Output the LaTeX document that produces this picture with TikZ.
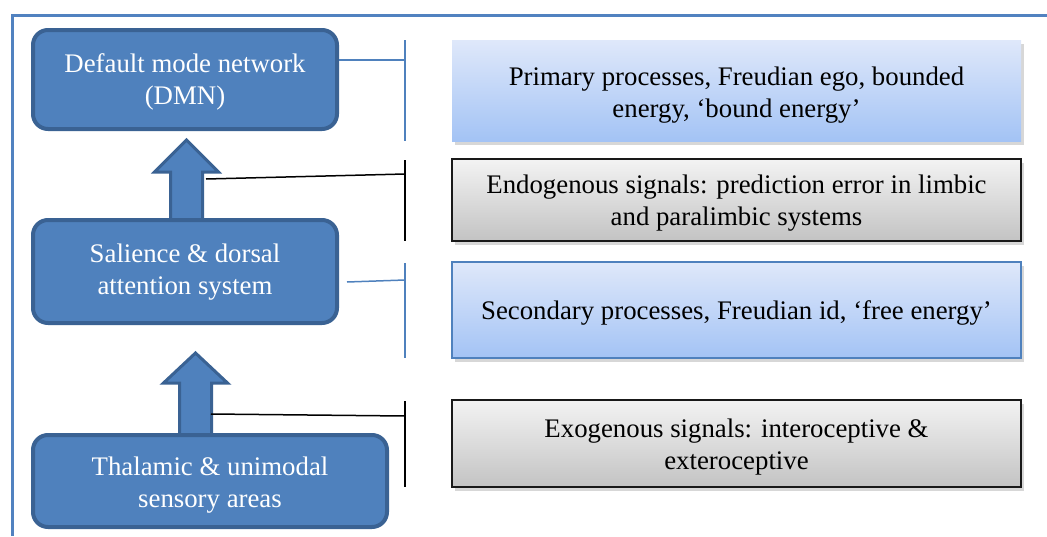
\documentclass[tikz,border=0pt]{standalone}
\usepackage{fontspec}
\setmainfont{Liberation Serif}
\usetikzlibrary{shadows,calc}
\definecolor{netfill}{HTML}{4F81BD}
\definecolor{netline}{HTML}{3A6293}
\definecolor{frameblue}{HTML}{5182C0}
\definecolor{blueTop}{HTML}{DFE8FA}
\definecolor{blueBot}{HTML}{A3C3F5}
\definecolor{grayTop}{HTML}{F3F3F3}
\definecolor{grayBot}{HTML}{C3C3C3}
\definecolor{linkblue}{HTML}{4F81BD}
\tikzset{
  txt/.style={font=\fontsize{26.8}{32}\selectfont, align=center, inner sep=0pt},
  netbox/.style={draw=netline, fill=netfill, line width=4pt,
    rounded corners=15pt, inner sep=0pt},
  shade box/.style={inner sep=0pt, minimum width=569pt,
    drop shadow={shadow xshift=3pt, shadow yshift=-4pt, opacity=0.35, fill=black!45}},
  bluebox/.style={shade box, top color=blueTop, bottom color=blueBot},
  graybox/.style={shade box, top color=grayTop, bottom color=grayBot,
    draw=black!90, line width=1.8pt},
  blockarrow/.style={draw=netline, fill=netfill, line width=3pt, line join=miter},
  bluelink/.style={draw=linkblue, line width=1.5pt},
  blacklink/.style={draw=black, line width=1.5pt},
}
\begin{document}
\begin{tikzpicture}[x=1pt,y=-1pt]
\useasboundingbox (0,0) rectangle (1047,536);

% outer frame (open to the right and bottom)
\draw[frameblue, line width=3pt] (1047,15.5) -- (12.5,15.5) -- (12.5,536);

% block arrows between the network levels
\coordinate (tipA) at (186.5,140);
\coordinate (tipB) at (195.5,353);
\draw[blockarrow] (tipA) -- ++(32,32) -- ++(-16,0) -- ++(0,52) -- ++(-32,0)
  -- ++(0,-52) -- ++(-16,0) -- cycle;
\draw[blockarrow] (tipB) -- ++(32,30) -- ++(-16,0) -- ++(0,55) -- ++(-32,0)
  -- ++(0,-55) -- ++(-16,0) -- cycle;

% network levels
\node[netbox, minimum width=304pt, minimum height=99pt] (dmn) at (185,79.5) {};
\node[txt, text=white] (dmnT) at ($(dmn.center)+(0,2)$) {Default mode network\\(DMN)};
\node[netbox, minimum width=304pt, minimum height=103pt] (sal) at (185,271.5) {};
\node[txt, text=white] (salT) at ($(sal.center)+(0,0.5)$) {Salience \& dorsal\\attention system};
\node[netbox, minimum width=354pt, minimum height=92pt] (thal) at (210,481) {};
\node[txt, text=white] (thalT) at ($(thal.center)+(0,4)$) {Thalamic \& unimodal\\sensory areas};

% descriptions
\node[bluebox, minimum height=101pt] (prim) at (736.5,90.5) {};
\node[txt] (primT) at ($(prim.center)+(0,4.5)$)
  {Primary processes, Freudian ego, bounded\\energy, `bound energy'};
\node[graybox, minimum height=82pt] (endo) at (736.5,200) {};
\node[txt] (endoT) at ($(endo.center)+(0,3.5)$)
  {Endogenous signals: prediction error in limbic\\and paralimbic systems};
\node[bluebox, draw=linkblue, line width=1.2pt, minimum height=96pt] (sec) at (736.5,310) {};
\node[txt] (secT) at ($(sec.center)+(0,3)$)
  {Secondary processes, Freudian id, `free energy'};
\node[graybox, minimum height=87pt] (exo) at (736.5,443.5) {};
\node[txt] (exoT) at ($(exo.center)+(0,3.5)$)
  {Exogenous signals: interoceptive \&\\exteroceptive};

% bracket ends
\coordinate (bp1t) at (405,40);   \coordinate (bp1b) at (405,141);
\coordinate (be1t) at (405,160);  \coordinate (be1b) at (405,241);
\coordinate (bs1t) at (405,263);  \coordinate (bs1b) at (405,358);
\coordinate (bx1t) at (405,401);  \coordinate (bx1b) at (405,487);
\coordinate (arrAside) at (206,179);
\coordinate (arrBside) at (211,414);

% brackets and leader lines
\draw[bluelink] (bp1t) -- (bp1b);
\draw[bluelink] (dmn.east |- 0,60) -- (bp1t |- 0,60);
\draw[blacklink] (be1t) -- (be1b);
\draw[blacklink] (arrAside) -- (405,174);
\draw[bluelink] (bs1t) -- (bs1b);
\draw[bluelink] ($(sal.east)+(8,10.5)$) -- (405,280);
\draw[blacklink] (bx1t) -- (bx1b);
\draw[blacklink] (arrBside) -- (405,416);
\end{tikzpicture}
\end{document}
